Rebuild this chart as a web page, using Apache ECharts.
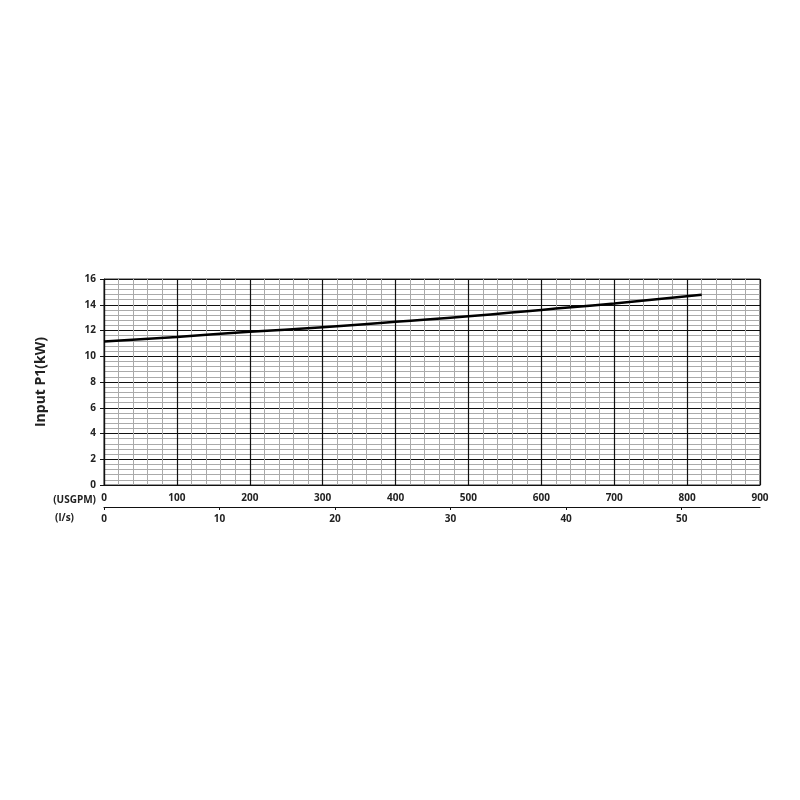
<!DOCTYPE html>
<html>
<head>
<meta charset="utf-8">
<script src="https://cdn.jsdelivr.net/npm/echarts@6/dist/echarts.min.js"></script>
<style>
  html, body { margin: 0; padding: 0; background: #fff; }
  #chart { width: 800px; height: 800px; }
</style>
</head>
<body>
<div id="chart"></div>
<script>
// flow in USGPM and input power in kW
const flowUsgpm = [0, 100, 200, 300, 400, 500, 600, 700, 820]
const powerKw = [11.15, 11.5, 11.9, 12.25, 12.68, 13.1, 13.6, 14.1, 14.78]
// 1 l/s = 15.85 USGPM
const usgpmPerLs = 15.85
const flowMax = 900

const labelFont = {
  fontFamily: 'Open Sans',
  fontWeight: 'bold',
  fontSize: 10,
  color: '#222'
}

const myChart = echarts.init(document.querySelector('#chart'))

const option = {
  backgroundColor: '#fff',
  animation: false,
  grid: {
    left: 104,
    right: 40,
    top: 279,
    bottom: 315,
    show: true,
    borderColor: '#333',
    borderWidth: 1
  },
  xAxis: [
    {
      type: 'value',
      min: 0,
      max: flowMax,
      interval: 100,
      position: 'bottom',
      name: '(USGPM)',
      nameLocation: 'start',
      nameGap: 8,
      nameTextStyle: Object.assign({}, labelFont, { verticalAlign: 'top', padding: [10, 0, 0, 0] }),
      axisLine: { lineStyle: { color: '#111', width: 1.2 } },
      axisTick: { show: false },
      axisLabel: Object.assign({ margin: 8 }, labelFont),
      splitLine: { lineStyle: { color: '#111', width: 1.2 } },
      minorTick: { show: false, splitNumber: 5 },
      minorSplitLine: { show: true, lineStyle: { color: '#aaa', width: 1 } }
    },
    {
      type: 'value',
      min: 0,
      max: flowMax / usgpmPerLs,
      interval: 10,
      position: 'bottom',
      offset: 22,
      name: '(l/s)',
      nameLocation: 'start',
      nameGap: 30,
      nameTextStyle: Object.assign({}, labelFont, { verticalAlign: 'top', padding: [6, 0, 0, 0] }),
      axisLine: { show: true, lineStyle: { color: '#111', width: 1.2 } },
      axisTick: { show: true, length: 3, lineStyle: { color: '#111' } },
      axisLabel: Object.assign({ margin: 7, showMaxLabel: false }, labelFont),
      splitLine: { show: false }
    }
  ],
  yAxis: {
    type: 'value',
    min: 0,
    max: 16,
    interval: 2,
    name: 'Input P1(kW)',
    nameLocation: 'middle',
    nameGap: 56,
    nameTextStyle: {
      fontFamily: 'Open Sans',
      fontWeight: 'bold',
      fontSize: 14,
      color: '#222'
    },
    axisLine: { show: true, lineStyle: { color: '#111', width: 1.2 } },
    axisTick: { show: true, length: 4, lineStyle: { color: '#111' } },
    axisLabel: Object.assign({ margin: 8 }, labelFont),
    splitLine: { lineStyle: { color: '#111', width: 1.2 } },
    minorTick: { show: false, splitNumber: 5 },
    minorSplitLine: { show: true, lineStyle: { color: '#aaa', width: 1 } }
  },
  series: [
    {
      name: 'P1',
      type: 'line',
      xAxisIndex: 0,
      data: flowUsgpm.map((q, i) => [q, powerKw[i]]),
      smooth: true,
      showSymbol: false,
      lineStyle: { color: '#000', width: 2.5 }
    }
  ]
}

myChart.setOption(option)
</script>
</body>
</html>
